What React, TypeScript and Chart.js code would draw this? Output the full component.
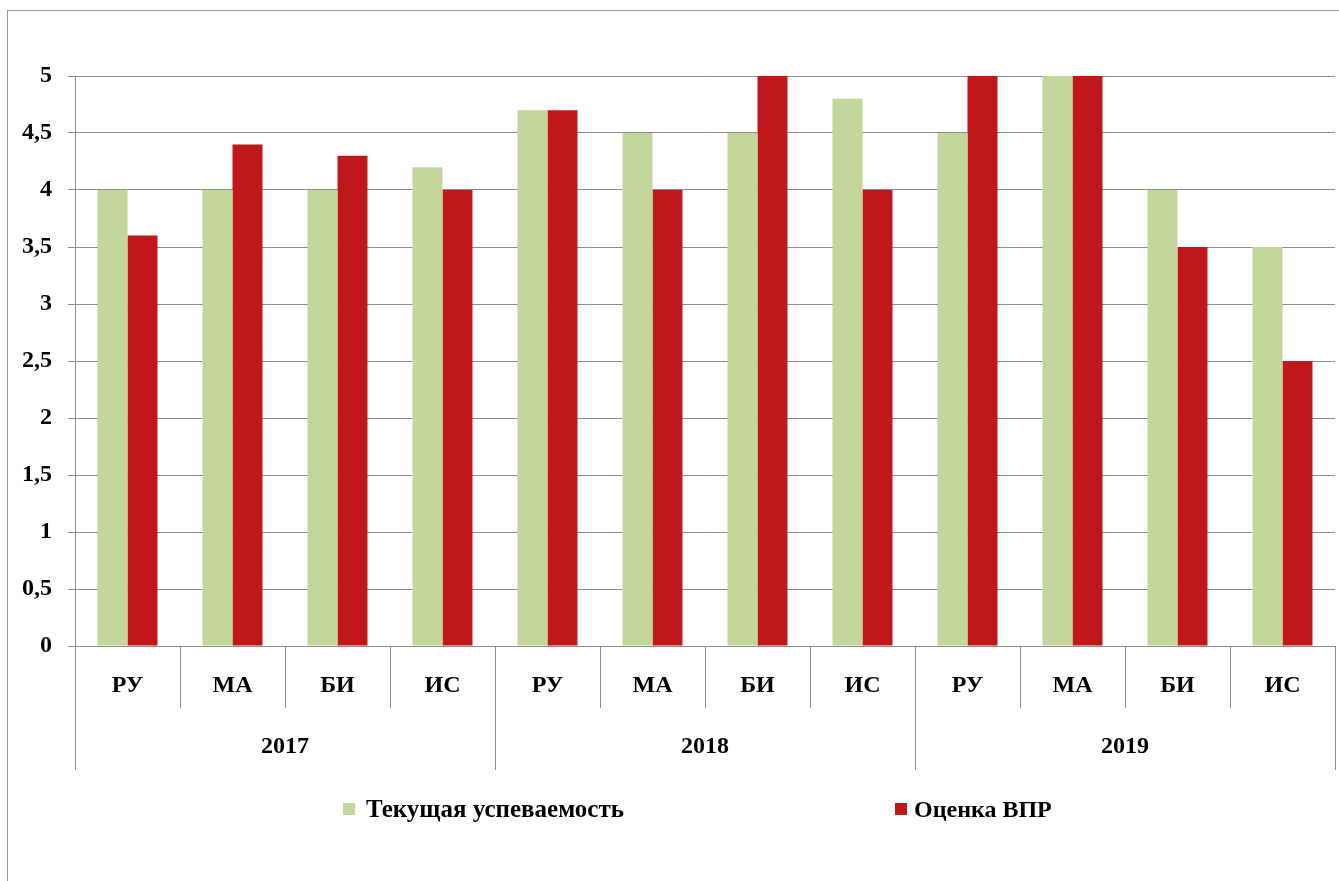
import React, { useEffect, useRef } from "react";
import { Chart, registerables } from "chart.js";

Chart.register(...registerables);

const subjects = ["РУ", "МА", "БИ", "ИС", "РУ", "МА", "БИ", "ИС", "РУ", "МА", "БИ", "ИС"];
const years = ["2017", "2018", "2019"];
const currentGrades = [4, 4, 4, 4.2, 4.7, 4.5, 4.5, 4.8, 4.5, 5, 4, 3.5];
const vprGrades = [3.6, 4.4, 4.3, 4, 4.7, 4, 5, 4, 5, 5, 3.5, 2.5];
const seriesNames = ["Текущая успеваемость", "Оценка ВПР"];
const seriesColors = ["#c3d69b", "#c0171b"];

const FONT = "'Liberation Serif', 'Times New Roman', serif";
const GRID = "#8c8c8c";

export default function App() {
  const ref = useRef<HTMLCanvasElement | null>(null);

  useEffect(() => {
    if (!ref.current) return;
    const chart = new Chart(ref.current, {
      type: "bar",
      data: {
        labels: subjects,
        datasets: [
          { label: seriesNames[0], data: currentGrades, backgroundColor: seriesColors[0], borderWidth: 0 },
          { label: seriesNames[1], data: vprGrades, backgroundColor: seriesColors[1], borderWidth: 0 },
        ],
      },
      options: {
        responsive: false,
        animation: false,
        layout: { padding: { top: 65, left: 0, right: 4, bottom: 0 } },
        plugins: { legend: { display: false }, tooltip: { enabled: false } },
        datasets: { bar: { categoryPercentage: 0.571, barPercentage: 1 } },
        scales: {
          x: {
            type: "category",
            position: "bottom",
            offset: true,
            grid: { display: true, offset: true, drawOnChartArea: false, drawTicks: true, tickLength: 62, color: GRID },
            border: { display: true, color: GRID },
            ticks: { padding: -37, color: "#000", font: { family: FONT, size: 24, weight: "bold" }, maxRotation: 0 },
            afterFit: (s: any) => { s.height = 62; },
          },
          x2: {
            type: "category",
            position: "bottom",
            labels: years,
            offset: true,
            grid: { display: true, offset: true, drawOnChartArea: false, drawTicks: true, tickLength: 62, color: GRID },
            border: { display: false },
            ticks: { padding: -38, color: "#000", font: { family: FONT, size: 24, weight: "bold" }, maxRotation: 0 },
            afterFit: (s: any) => { s.height = 173; },
          },
          y: {
            min: 0,
            max: 5,
            ticks: {
              stepSize: 0.5,
              padding: 16,
              color: "#000",
              font: { family: FONT, size: 24, weight: "bold" },
              callback: (v: any) => String(v).replace(".", ","),
            },
            grid: { color: GRID, tickLength: 7, drawTicks: true },
            border: { display: true, color: GRID },
            afterFit: (s: any) => { s.width = 67; },
          },
        },
      },
    });
    return () => chart.destroy();
  }, []);

  const legendItem = (i: number, left: number, gap: number, size: number) => (
    <div
      key={i}
      style={{
        position: "absolute",
        left,
        top: 784,
        height: 28,
        display: "flex",
        alignItems: "center",
        fontFamily: FONT,
        fontWeight: "bold",
        fontSize: size,
        lineHeight: "28px",
        color: "#000",
        whiteSpace: "nowrap",
      }}
    >
      <span style={{ display: "inline-block", width: 12, height: 12, background: seriesColors[i], marginRight: gap }} />
      <span>{seriesNames[i]}</span>
    </div>
  );

  return (
    <div
      style={{
        position: "absolute",
        left: 7,
        top: 10,
        width: 1332,
        height: 871,
        boxSizing: "border-box",
        borderTop: "1px solid #9a9a9a",
        borderLeft: "1px solid #9a9a9a",
        overflow: "hidden",
        background: "#fff",
      }}
    >
      <canvas ref={ref} width={1331} height={870} style={{ display: "block" }} />
      {legendItem(0, 335, 11, 25)}
      {legendItem(1, 887, 7, 24)}
    </div>
  );
}
